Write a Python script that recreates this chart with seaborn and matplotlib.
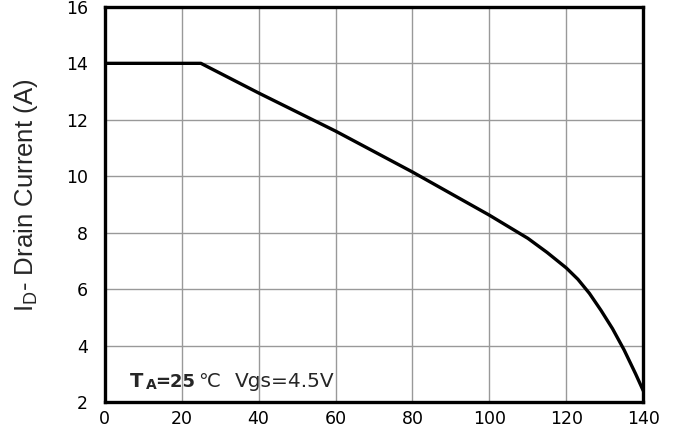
import matplotlib
matplotlib.use("Agg")
import matplotlib.pyplot as plt
import seaborn as sns
import pandas as pd

# Drain current derating vs. temperature
temperature = [0, 25, 40, 60, 80, 100, 110, 115, 120, 123, 126, 129, 132, 135, 138, 140]
drain_current = [14.0, 14.0, 12.95, 11.6, 10.15, 8.62, 7.8, 7.3, 6.75, 6.35, 5.85, 5.25, 4.6, 3.85, 3.0, 2.4]
x_ticks = [0, 20, 40, 60, 80, 100, 120, 140]
y_ticks = [2, 4, 6, 8, 10, 12, 14, 16]

df = pd.DataFrame({"T": temperature, "ID": drain_current})

sns.set_style("white")
plt.rcParams["font.family"] = ["Liberation Sans", "DejaVu Sans"]
plt.rcParams["mathtext.fontset"] = "custom"
plt.rcParams["mathtext.rm"] = "Liberation Sans"
plt.rcParams["mathtext.bf"] = "Liberation Sans:bold"

fig = plt.figure(figsize=(6.8, 4.3), dpi=100)
ax = fig.add_axes([0.154, 0.065, 0.792, 0.919])

sns.lineplot(data=df, x="T", y="ID", ax=ax, color="black", linewidth=2.4)

ax.set_xlim(0, 140)
ax.set_ylim(2, 16)
ax.set_xticks(x_ticks)
ax.set_yticks(y_ticks)
ax.grid(True, color="#999999", linewidth=1.0)
ax.set_axisbelow(True)
for s in ax.spines.values():
    s.set_color("black")
    s.set_linewidth(2.4)
ax.tick_params(axis="both", length=0, colors="black")
ax.tick_params(axis="y", pad=12)
ax.tick_params(axis="x", pad=6)
for lbl in ax.get_xticklabels() + ax.get_yticklabels():
    lbl.set_fontfamily("DejaVu Sans")
    lbl.set_fontsize(12.5)

ax.set_xlabel("")
ax.set_ylabel(r"I$_\mathrm{D}$- Drain Current (A)", fontsize=18.5)
ax.yaxis.set_label_coords(-0.12, 0.524)

# Test-condition note in the lower-left corner
note_y = 2.53
ax.text(6.5, note_y, "T", fontsize=14, fontweight="bold", family="DejaVu Sans")
ax.text(10.6, note_y - 0.06, "A", fontsize=10, fontweight="bold", family="DejaVu Sans")
ax.text(13.2, note_y, "=25", fontsize=13, fontweight="bold", family="DejaVu Sans")
ax.text(24.2, note_y, "\u2103", fontsize=14, family="DejaVu Sans")
ax.text(33.8, note_y, "Vgs=4.5V", fontsize=14.5, family="DejaVu Sans")

fig.savefig("out.png", dpi=100)
